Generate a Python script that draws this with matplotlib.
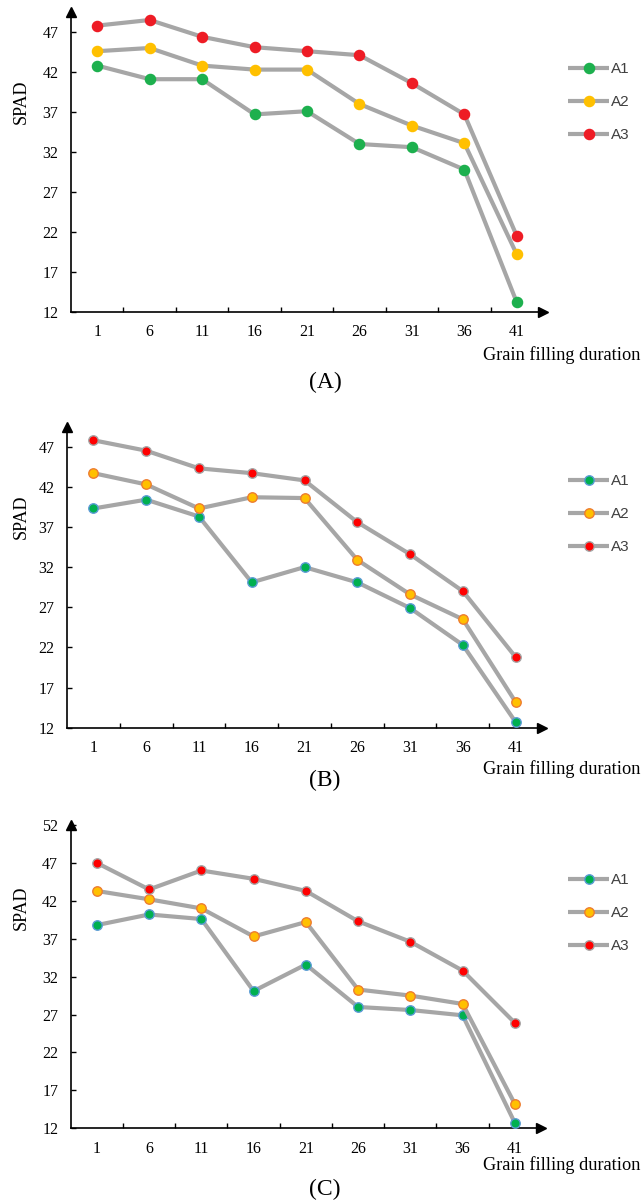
import matplotlib
matplotlib.use("Agg")
import matplotlib.pyplot as plt

days = ["1", "6", "11", "16", "21", "26", "31", "36", "41"]
series = ["A1", "A2", "A3"]

# panel A
a_a1 = [42.8, 41.1, 41.1, 36.7, 37.1, 33.0, 32.6, 29.8, 13.2]
a_a2 = [44.6, 45.0, 42.8, 42.3, 42.3, 38.0, 35.3, 33.1, 19.2]
a_a3 = [47.8, 48.5, 46.4, 45.1, 44.6, 44.1, 40.6, 36.7, 21.5]
# panel B
b_a1 = [39.3, 40.4, 38.3, 30.1, 32.0, 30.1, 26.9, 22.3, 12.7]
b_a2 = [43.7, 42.3, 39.3, 40.7, 40.6, 32.9, 28.6, 25.5, 15.2]
b_a3 = [47.8, 46.5, 44.3, 43.7, 42.8, 37.6, 33.6, 29.0, 20.8]
# panel C
c_a1 = [38.8, 40.2, 39.6, 30.1, 33.6, 28.0, 27.6, 26.9, 12.7]
c_a2 = [43.3, 42.2, 41.0, 37.3, 39.2, 30.3, 29.5, 28.4, 15.2]
c_a3 = [47.0, 43.5, 46.0, 44.9, 43.3, 39.3, 36.6, 32.8, 25.9]

yticks_ab = [12, 17, 22, 27, 32, 37, 42, 47]
yticks_c = [12, 17, 22, 27, 32, 37, 42, 47, 52]

W, H = 642, 1201
fig = plt.figure(figsize=(W / 100, H / 100), dpi=100)

serif = "Liberation Serif"
line_col = "#a6a6a6"

# face colours and edge colours for each panel
face_a = ["#1db04e", "#ffc000", "#ee1c25"]
edge_a = ["#1db04e", "#ffc000", "#ee1c25"]
face_bc = ["#00b050", "#ffc000", "#ff0000"]
edge_bc = ["#5b9bd5", "#ed7d31", "#a5a5a5"]

# pixel boxes: left, right(arrow tip), bottom, top
panels = [
    dict(data=[a_a1, a_a2, a_a3], box=(71, 543, 312, 12), ylim=(12, 49.5), yt=yticks_ab,
         face=face_a, edge=edge_a, ms=7.3, spad=102, xl=355, lab="(A)", laby=382, leg=70),
    dict(data=[b_a1, b_a2, b_a3], box=(67, 542, 727.7, 427), ylim=(12, 49.45), yt=yticks_ab,
         face=face_bc, edge=edge_bc, ms=6.8, spad=517, xl=769, lab="(B)", laby=780, leg=482),
    dict(data=[c_a1, c_a2, c_a3], box=(70.7, 541, 1128.3, 825), ylim=(12, 52), yt=yticks_c,
         face=face_bc, edge=edge_bc, ms=6.8, spad=908, xl=1165, lab="(C)", laby=1189, leg=881),
]

for p in panels:
    x0, x1, yb, yt_ = p["box"]
    ax = fig.add_axes([x0 / W, 1 - yb / H, (x1 - x0) / W, (yb - yt_) / H])
    x = list(range(len(days)))
    for i, vals in enumerate(p["data"]):
        ax.plot(x, vals, color=line_col, lw=3.0, marker="o", ms=p["ms"],
                mfc=p["face"][i], mec=p["edge"][i], mew=1.0, label=series[i],
                solid_capstyle="butt", clip_on=False, zorder=3)
    ax.set_xlim(-0.5, len(days) - 0.5)
    ax.set_ylim(*p["ylim"])
    ax.set_xticks(x)
    ax.set_xticklabels(days)
    ax.set_xticks([i + 0.5 for i in range(len(days) - 1)], minor=True)
    ax.set_yticks(p["yt"])
    ax.tick_params(axis="x", which="major", length=0, pad=9, labelsize=11.5)
    ax.tick_params(axis="x", which="minor", direction="in", length=3.5, width=1)
    ax.tick_params(axis="y", direction="in", length=3.5, width=1, pad=9, labelsize=11.5)
    for t in ax.get_xticklabels() + ax.get_yticklabels():
        t.set_fontfamily(serif)
    for s in ["top", "right"]:
        ax.spines[s].set_visible(False)
    for s in ["left", "bottom"]:
        ax.spines[s].set_linewidth(1.2)
    # arrow heads
    ax.plot(1, 0, ">", color="black", ms=7, transform=ax.transAxes, clip_on=False, zorder=5)
    ax.plot(0, 1, "^", color="black", ms=7, transform=ax.transAxes, clip_on=False, zorder=5)

    ax.legend(loc="upper left", bbox_to_anchor=(568 / W, 1 - (p["leg"] - 8) / H),
              bbox_transform=fig.transFigure, frameon=False, borderpad=0, borderaxespad=0,
              handlelength=2.7, handletextpad=0.1, labelspacing=1.25,
              prop={"family": "Liberation Sans", "size": 11}, labelcolor="#404040")

    fig.text(21 / W, 1 - p["spad"] / H, "SPAD", rotation=90, ha="center", va="center",
             family=serif, fontsize=13)
    fig.text(640 / W, 1 - p["xl"] / H, "Grain filling duration", ha="right", va="center",
             family=serif, fontsize=13.2)
    fig.text(325 / W, 1 - p["laby"] / H, p["lab"], ha="center", va="center",
             family=serif, fontsize=17)

fig.savefig("out.png", dpi=100)
